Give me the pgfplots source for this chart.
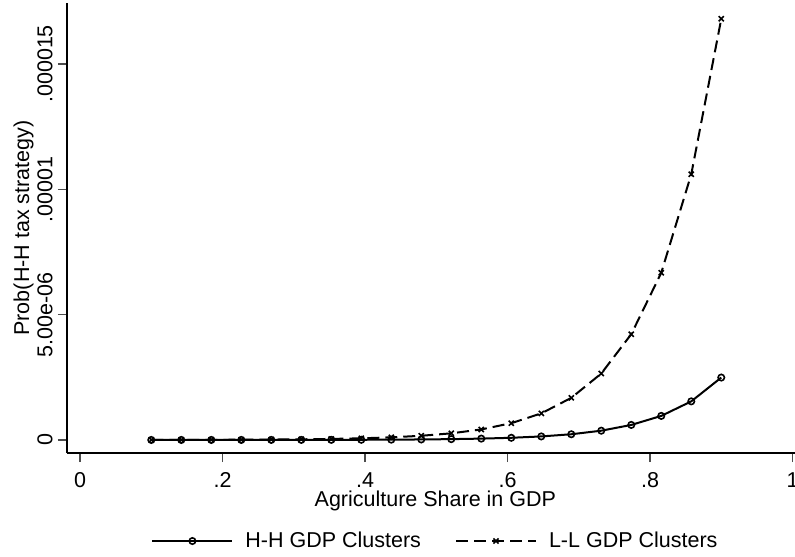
\documentclass[border=0pt]{standalone}
\usepackage{fontspec}
\setmainfont{Liberation Sans}
\usepackage{pgfplots}
\pgfplotsset{compat=1.18}

% Predicted probability of the H-H tax strategy by agriculture share
\pgfplotstableread{
x        hh        ll
0.100000 0.00028e-6 0.0026e-6
0.142105 0.00045e-6 0.0041e-6
0.184211 0.00072e-6 0.0065e-6
0.226316 0.0012e-6  0.0104e-6
0.268421 0.0019e-6  0.0165e-6
0.310526 0.0030e-6  0.026e-6
0.352632 0.0048e-6  0.042e-6
0.394737 0.0078e-6  0.066e-6
0.436842 0.0127e-6  0.105e-6
0.478947 0.0205e-6  0.167e-6
0.521053 0.033e-6   0.265e-6
0.563158 0.054e-6   0.42e-6
0.605263 0.087e-6   0.67e-6
0.647368 0.141e-6   1.06e-6
0.689474 0.228e-6   1.68e-6
0.731579 0.37e-6    2.65e-6
0.773684 0.60e-6    4.22e-6
0.815789 0.96e-6    6.67e-6
0.857895 1.54e-6    10.6e-6
0.900000 2.49e-6    16.8e-6
}\probdata

\begin{document}
\fontsize{10.75pt}{13pt}\selectfont
\begin{tikzpicture}
\path[use as bounding box] (-33.5pt,-51.5pt) rectangle (364pt,226.5pt);
\begin{axis}[
  at={(0pt,0pt)}, anchor=south west,
  scale only axis, width=364pt, height=225pt,
  xmin=-0.0183, xmax=1.0035,
  ymin=-0.52e-6, ymax=17.43e-6,
  axis x line*=bottom, axis y line*=left,
  axis line style={line width=0.6pt},
  tick align=outside, major tick length=4.5pt,
  tick style={line width=0.6pt, black!70},
  xtick={0,0.2,0.4,0.6,0.8,1},
  xticklabels={0,.2,.4,.6,.8,1},
  ytick={0,5e-6,1e-5,1.5e-5},
  yticklabels={0,5.00e-06,.00001,.000015},
  scaled y ticks=false, scaled x ticks=false,
  /pgf/number format/assume math mode=true,
  every tick label/.append style={font=\fontsize{10.75pt}{13pt}\selectfont},
  xticklabel style={anchor=north, inner sep=0pt, yshift=-5pt},
  yticklabel style={rotate=90, anchor=south, inner sep=0pt, yshift=2.5pt},
  xlabel={Agriculture Share in GDP},
  ylabel={Prob(H-H tax strategy)},
  xlabel style={at={([yshift=-26.5pt]axis description cs:0.506,0)}, anchor=base},
  ylabel style={at={([xshift=-19pt]axis description cs:0,0.5)}, anchor=base, rotate=0},
  legend columns=2,
  legend style={at={(axis description cs:0.1154,-0.1956)}, anchor=west,
    draw=none, fill=none, inner sep=0pt,
    nodes={inner sep=0pt},
    /tikz/column 1/.style={column sep=6pt},
    /tikz/column 2/.style={column sep=17pt},
    /tikz/column 3/.style={column sep=6pt}},
  legend image code/.code={%
    \draw[mark repeat=2, mark phase=2, #1]
      plot coordinates {(0pt,0pt) (20pt,0pt) (40pt,0pt)};},
]
\addplot[black, line width=1pt, mark=o,
  mark options={solid, line width=0.8pt, mark size=1.6pt}]
  table[x=x, y=hh] {\probdata};
\addlegendentry{H-H GDP Clusters}
\addplot[black, line width=1pt, dash pattern=on 6pt off 3pt, mark=x,
  mark options={solid, line width=0.8pt, mark size=1.8pt}]
  table[x=x, y=ll] {\probdata};
\addlegendentry{L-L GDP Clusters}
\end{axis}
\end{tikzpicture}
\end{document}
